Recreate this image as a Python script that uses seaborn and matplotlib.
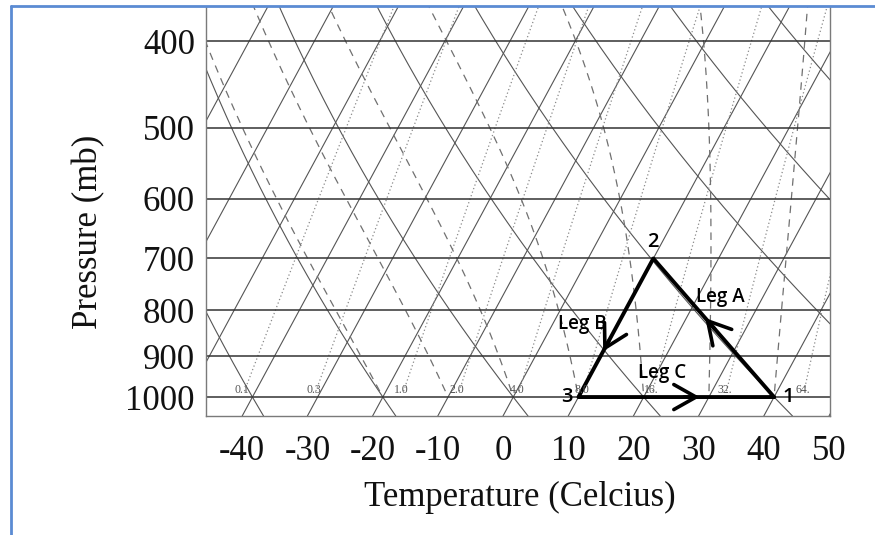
import numpy as np
import pandas as pd
import matplotlib
matplotlib.use('Agg')
import matplotlib.pyplot as plt
import seaborn as sns

# values
pressure_levels = [400, 500, 600, 700, 800, 900, 1000]
temp_ticks = [-40, -30, -20, -10, 0, 10, 20, 30, 40, 50]
temp_labels = ['-40', '-30', '-20', '-10', '0', '10', '20', '30', '40', '50']
isotherms = [-80, -70, -60, -50, -40, -30, -20, -10, 0, 10, 20, 30, 40, 50]
dry_adiabats = [-40, -20, 0, 20, 40, 60, 80, 100]        # potential temp, C
moist_adiabats = [-20, -10, 0, 10, 20, 30, 40]            # wet-bulb pot. temp, C
mixing_ratios = [0.1, 0.3, 1.0, 2.0, 4.0, 8.0, 16, 32, 64]  # g/kg
mixing_labels = ['0.1', '0.3', '1.0', '2.0', '4.0', '8.0', '16.', '32.', '64.']

# the parcel cycle 1 -> 2 -> 3 -> 1
point_names = ['1', '2', '3']
point_temp = [40, 10, 10]
point_pres = [1000, 700, 1000]
leg_names = ['Leg A', 'Leg B', 'Leg C']

# chart geometry
P_BOT, P_TOP = 1050, 366.4
SKEW = 32.2          # deg C of shift per unit ln(p)
X_LEFT, X_RIGHT = -45.55, 50.15


def skew_x(t, p):
    return np.asarray(t) + SKEW * np.log(P_BOT / np.asarray(p))


p_grid = np.geomspace(P_BOT, 340, 300)
p_upper = np.geomspace(985, 340, 300)

# isotherms
rows = []
for t in isotherms:
    for p in p_grid:
        rows.append((t, skew_x(t, p), p))
iso_df = pd.DataFrame(rows, columns=['line', 'x', 'p'])

# dry adiabats
rows = []
for th in dry_adiabats:
    for p in p_grid:
        t = (th + 273.15) * (p / 1000.0) ** 0.286 - 273.15
        rows.append((th, skew_x(t, p), p))
dry_df = pd.DataFrame(rows, columns=['line', 'x', 'p'])

# mixing ratio lines (dew point of constant w)
rows = []
for w in mixing_ratios:
    for p in p_upper:
        e = w * p / (622.0 + w)
        a = np.log(e / 6.112)
        td = 243.5 * a / (17.67 - a)
        rows.append((w, skew_x(td, p), p))
mix_df = pd.DataFrame(rows, columns=['line', 'x', 'p'])


# saturated adiabats, integrated from 1000 mb
def moist_rate(t, p):
    tk = t + 273.15
    es = 6.112 * np.exp(17.67 * t / (t + 243.5))
    rs = 0.622 * es / (p - es)
    lv, rd, cp = 2.501e6, 287.04, 1005.7
    return (rd * tk + lv * rs) / p / (cp + lv ** 2 * rs * 0.622 / (rd * tk ** 2))


rows = []
for tw in moist_adiabats:
    t = float(tw)
    p = 1000.0
    pts = [(p, t)]
    dp = -0.5
    while p > 340:
        k1 = moist_rate(t, p)
        k2 = moist_rate(t + dp * k1 / 2, p + dp / 2)
        k3 = moist_rate(t + dp * k2 / 2, p + dp / 2)
        k4 = moist_rate(t + dp * k3, p + dp)
        t += dp * (k1 + 2 * k2 + 2 * k3 + k4) / 6
        p += dp
        pts.append((p, t))
    for p, t in pts[::10]:
        rows.append((tw, skew_x(t, p), p))
moist_df = pd.DataFrame(rows, columns=['line', 'x', 'p'])
moist_df = moist_df[moist_df.p <= 985]

sns.set_theme(style='white')
plt.rcParams['font.family'] = ['Liberation Serif', 'DejaVu Serif']

fig = plt.figure(figsize=(8.75, 5.35), dpi=100)
ax = fig.add_axes([206 / 875, 1 - 416 / 535, (830 - 206) / 875, (416 - 7) / 535])

line_kw = dict(x='x', y='p', units='line', estimator=None, sort=False, ax=ax, legend=False)
sns.lineplot(data=iso_df, color='#555555', lw=0.8, **line_kw)
sns.lineplot(data=dry_df, color='#555555', lw=0.8, **line_kw)
sns.lineplot(data=mix_df, color='#8a8a8a', lw=0.9, ls=(0, (1, 2)), **line_kw)
sns.lineplot(data=moist_df, color='#707070', lw=0.9, ls=(0, (6, 5)), **line_kw)

ax.hlines(pressure_levels, X_LEFT, X_RIGHT, color='#333333', lw=1.1)

# mixing ratio labels just above the 1000 mb line
for w, lab in zip(mixing_ratios, mixing_labels):
    e = w * 1000 / (622.0 + w)
    a = np.log(e / 6.112)
    td = 243.5 * a / (17.67 - a)
    ax.text(skew_x(td, 1000), 998, lab, ha='center', va='bottom',
            fontsize=8.5, color='#555555')

# the triangle
tri_x = skew_x(point_temp + [point_temp[0]], point_pres + [point_pres[0]])
tri_p = point_pres + [point_pres[0]]
tri_df = pd.DataFrame({'x': tri_x, 'p': tri_p})
sns.lineplot(data=tri_df, x='x', y='p', sort=False, estimator=None,
             color='black', lw=2.8, ax=ax)

# arrows along the legs (fraction along each leg)
arrow_frac = [0.57, 0.67, 0.62]
lp = np.log(tri_p)
for i, f in enumerate(arrow_frac):
    x0, x1 = tri_x[i], tri_x[i + 1]
    l0, l1 = lp[i], lp[i + 1]
    tip = (x0 + f * (x1 - x0), np.exp(l0 + f * (l1 - l0)))
    g = f - 0.08
    tail = (x0 + g * (x1 - x0), np.exp(l0 + g * (l1 - l0)))
    ax.annotate('', xy=tip, xytext=tail,
                arrowprops=dict(arrowstyle='->,head_length=0.8,head_width=0.45',
                                lw=2.6, color='black', mutation_scale=20,
                                shrinkA=0, shrinkB=0))

num_font = dict(family=['Open Sans', 'DejaVu Sans'], weight='semibold',
                fontsize=14.5, color='black')
offsets = [((6, 0), 'left', 'center'), ((0, 5), 'center', 'bottom'),
           ((-4, 0), 'right', 'center')]
for name, t, p, (off, ha, va) in zip(point_names, point_temp, point_pres, offsets):
    ax.annotate(name, (skew_x(t, p), p), xytext=off, textcoords='offset points',
                ha=ha, va=va, **num_font)

leg_pos = [(33.3, 773), (12.1, 829), (24.4, 940)]
for name, (lx, lpres) in zip(leg_names, leg_pos):
    ax.text(lx, lpres, name, ha='center', va='center',
            family=['Open Sans', 'DejaVu Sans'], weight='semibold',
            fontsize=13.5, color='black')

ax.set_yscale('log')
ax.set_ylim(P_BOT, P_TOP)
ax.set_xlim(X_LEFT, X_RIGHT)
ax.yaxis.set_minor_locator(matplotlib.ticker.NullLocator())
ax.set_yticks(pressure_levels)
ax.set_yticklabels([str(p) for p in pressure_levels])
ax.set_xticks(temp_ticks)
ax.set_xticklabels(temp_labels)
ax.tick_params(axis='both', length=0, labelsize=25, colors='#111111')
ax.tick_params(axis='x', pad=14)
ax.tick_params(axis='y', pad=8)

ax.set_xlabel('Temperature (Celcius)', fontsize=25, color='#111111')
ax.set_ylabel('Pressure (mb)', fontsize=25, color='#111111')
ax.xaxis.set_label_coords(0.503, -0.158)
ax.yaxis.set_label_coords(-0.162, 0.45)

for side in ['left', 'bottom', 'right']:
    ax.spines[side].set_color('#7a7a7a')
    ax.spines[side].set_linewidth(1.0)
ax.spines['top'].set_visible(False)

# blue page frame
fig.add_artist(plt.Line2D([11 / 875, 11 / 875], [0, 1 - 6 / 535],
                          transform=fig.transFigure, color='#5b8bd3', lw=2))
fig.add_artist(plt.Line2D([11 / 875, 1], [1 - 6 / 535, 1 - 6 / 535],
                          transform=fig.transFigure, color='#5b8bd3', lw=2))

fig.savefig('out.png', dpi=100)
